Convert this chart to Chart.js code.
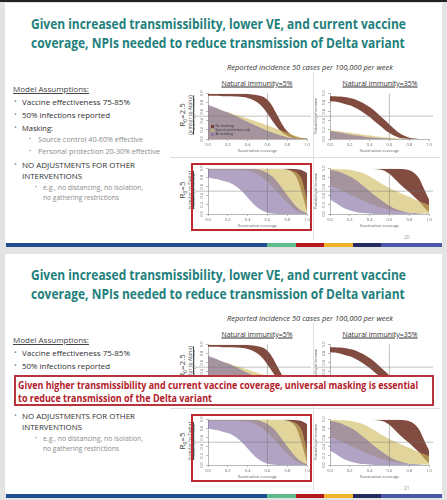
<!DOCTYPE html>
<html>
<head>
<meta charset="utf-8">
<script src="https://cdn.jsdelivr.net/npm/chart.js@4.4.1/dist/chart.umd.min.js"></script>
<style>
  body { margin:0; width:447px; height:500px; background:#e3e3e3; position:relative; overflow:hidden; font-family:'Open Sans', sans-serif; }
  .topstrip { position:absolute; left:0; top:0; width:447px; height:2px; background:#222; }
  .slide { position:absolute; left:0; width:447px; height:250px; }
  .paper { position:absolute; left:5px; top:3px; width:437px; height:240px; background:#fff; }
  .txt { position:absolute; white-space:nowrap; transform-origin:0 50%; color:#333; }
  .vtxt { position:absolute; white-space:nowrap; transform:translate(-50%,-50%) rotate(-90deg); color:#444; }
  .ctxt { position:absolute; white-space:nowrap; transform:translate(-50%,-50%); color:#333; }
  .hline { position:absolute; height:1px; background:#dedede; }
  .vline { position:absolute; width:1px; background:#dedede; }
  .redbox { position:absolute; border:2px solid #c0282f; box-sizing:border-box; z-index:4; }
  .msgbox { position:absolute; border:2px solid #b8343c; box-sizing:border-box; background:#fff; z-index:5; }
  canvas { position:absolute; }
</style>
</head>
<body>
<div class="topstrip"></div>
<script>
// ---------- data ----------
const coverage = [0, 0.05, 0.1, 0.15, 0.2, 0.25, 0.3, 0.35, 0.4, 0.45, 0.5, 0.55, 0.6, 0.65, 0.7, 0.75, 0.8, 0.85, 0.9, 0.95, 1];
const tickValues = [0, 0.2, 0.4, 0.6, 0.8, 1.0];
const refCoverage = 0.6;
const refProb = 0.5;
const seriesNames = ['No masking', 'Source protection only', 'All masking'];

// R0=2.5, natural immunity 5%
const a5NoMaskHi = [0.99,0.99,0.99,0.99,0.99,0.99,0.99,0.99,0.985,0.975,0.96,0.93,0.86,0.72,0.52,0.32,0.17,0.08,0.04,0.02,0.01];
const a5NoMaskLo = [0.95,0.95,0.95,0.94,0.94,0.94,0.93,0.92,0.9,0.86,0.8,0.7,0.56,0.4,0.25,0.14,0.07,0.03,0.01,0,0];
const a5SourceHi = [0.72,0.69,0.66,0.62,0.59,0.55,0.52,0.48,0.45,0.41,0.38,0.34,0.3,0.26,0.22,0.18,0.14,0.1,0.06,0.03,0.01];
const a5SourceLo = [0,0,0,0,0,0,0,0,0,0,0,0,0,0,0,0,0,0,0,0,0];
const a5AllHi    = [0.75,0.71,0.67,0.62,0.58,0.53,0.48,0.43,0.38,0.33,0.28,0.23,0.18,0.14,0.1,0.07,0.04,0.02,0.01,0,0];
const a5AllLo    = [0,0,0,0,0,0,0,0,0,0,0,0,0,0,0,0,0,0,0,0,0];

// R0=2.5, natural immunity 35%
const a35NoMaskHi = [0.94,0.94,0.93,0.92,0.9,0.87,0.82,0.77,0.7,0.62,0.52,0.42,0.32,0.22,0.13,0.07,0.03,0.01,0,0,0];
const a35NoMaskLo = [0.83,0.82,0.8,0.77,0.74,0.69,0.63,0.56,0.48,0.39,0.3,0.21,0.13,0.07,0.03,0.01,0,0,0,0,0];
const a35SourceHi = [0.2,0.18,0.17,0.15,0.14,0.12,0.11,0.09,0.08,0.06,0.05,0.04,0.03,0.02,0.01,0.01,0,0,0,0,0];
const a35SourceLo = [0,0,0,0,0,0,0,0,0,0,0,0,0,0,0,0,0,0,0,0,0];
const a35AllHi    = [0.18,0.16,0.14,0.12,0.1,0.08,0.07,0.05,0.04,0.03,0.02,0.01,0.01,0,0,0,0,0,0,0,0];
const a35AllLo    = [0,0,0,0,0,0,0,0,0,0,0,0,0,0,0,0,0,0,0,0,0];

// R0=5, natural immunity 5%
const d5NoMaskHi = [1,1,1,1,1,1,1,1,1,1,1,1,1,1,1,1,1,0.995,0.98,0.96,0.9];
const d5NoMaskLo = [0.99,0.99,0.99,0.99,0.99,0.99,0.99,0.99,0.99,0.99,0.99,0.99,0.99,0.99,0.99,0.985,0.97,0.92,0.78,0.45,0.05];
const d5SourceHi = [0.995,0.995,0.995,0.995,0.995,0.995,0.995,0.995,0.995,0.995,0.995,0.995,0.995,0.99,0.99,0.98,0.97,0.95,0.9,0.75,0.3];
const d5SourceLo = [0.97,0.97,0.97,0.97,0.97,0.97,0.97,0.96,0.95,0.92,0.87,0.8,0.71,0.6,0.48,0.36,0.25,0.15,0.07,0.02,0];
const d5AllHi    = [0.99,0.99,0.99,0.99,0.99,0.99,0.99,0.99,0.99,0.99,0.98,0.95,0.9,0.82,0.7,0.56,0.41,0.27,0.15,0.06,0.02];
const d5AllLo    = [0.8,0.78,0.76,0.73,0.7,0.65,0.58,0.48,0.36,0.24,0.14,0.07,0.03,0.01,0,0,0,0,0,0,0];

// R0=5, natural immunity 35%
const d35NoMaskHi = [0.99,0.99,0.99,0.99,0.99,0.99,0.99,0.99,0.99,0.99,0.99,0.99,0.99,0.99,0.99,0.98,0.96,0.9,0.78,0.55,0.32];
const d35NoMaskLo = [0.99,0.99,0.99,0.99,0.99,0.99,0.99,0.99,0.99,0.985,0.975,0.95,0.88,0.78,0.67,0.57,0.48,0.38,0.28,0.15,0.04];
const d35SourceHi = [0.99,0.99,0.98,0.98,0.97,0.95,0.92,0.88,0.82,0.76,0.69,0.63,0.57,0.52,0.47,0.42,0.38,0.33,0.28,0.24,0.2];
const d35SourceLo = [0.62,0.58,0.53,0.48,0.43,0.38,0.33,0.28,0.23,0.19,0.15,0.12,0.09,0.07,0.05,0.04,0.03,0.02,0.01,0.01,0];
const d35AllHi    = [0.97,0.95,0.92,0.87,0.82,0.76,0.68,0.59,0.5,0.41,0.33,0.25,0.18,0.12,0.08,0.05,0.03,0.02,0.01,0,0];
const d35AllLo    = [0.32,0.25,0.18,0.12,0.08,0.05,0.03,0.02,0.01,0,0,0,0,0,0,0,0,0,0,0,0];

// colours
const bandColors = {
  noMask: 'rgba(112,50,38,0.88)',
  source: 'rgba(208,188,96,0.62)',
  all: 'rgba(128,106,160,0.62)'
};
const barColors = ['#1f4f8f', '#5dbb8c', '#b7161c', '#f0b429', '#252a63', '#4b58a8'];
const barStops  = [6, 267, 296, 324, 353, 381, 442];

Chart.defaults.font.family = "'Open Sans', sans-serif";
Chart.defaults.color = '#555';

// ---------- helpers ----------
function addText(parent, str, x, yc, size, style, w) {
  const el = document.createElement('div');
  el.className = 'txt';
  el.innerHTML = str;
  el.style.left = x + 'px';
  el.style.top = (yc - size * 0.65) + 'px';
  el.style.fontSize = size + 'px';
  el.style.lineHeight = (size * 1.3) + 'px';
  Object.assign(el.style, style || {});
  parent.appendChild(el);
  if (w) {
    const nat = el.getBoundingClientRect().width;
    if (nat > 0) el.style.transform = `scaleX(${(w / nat).toFixed(3)})`;
  }
  return el;
}

function addBox(parent, cls, x, y, w, h) {
  const el = document.createElement('div');
  el.className = cls;
  el.style.left = x + 'px';
  el.style.top = y + 'px';
  if (w != null) el.style.width = w + 'px';
  if (h != null) el.style.height = h + 'px';
  parent.appendChild(el);
  return el;
}

const pts = arr => coverage.map((c, i) => ({ x: c, y: arr[i] }));

function band(hi, lo, color, order) {
  const common = { borderWidth: 0, borderColor: 'transparent', pointRadius: 0, order, cubicInterpolationMode: 'monotone' };
  return [
    { ...common, data: pts(hi), fill: '+1', backgroundColor: color },
    { ...common, data: pts(lo), fill: false }
  ];
}

// grey reference lines at 60% coverage and p=0.5
const refLines = {
  id: 'refLines',
  afterDatasetsDraw(chart) {
    const { ctx, chartArea: ca, scales: { x, y } } = chart;
    const px = x.getPixelForValue(refCoverage);
    const py = y.getPixelForValue(refProb);
    ctx.save();
    ctx.strokeStyle = 'rgba(110,110,110,0.55)';
    ctx.lineWidth = 0.8;
    ctx.beginPath();
    ctx.moveTo(px, ca.top);
    ctx.lineTo(px, ca.bottom);
    ctx.moveTo(0, py);
    ctx.lineTo(chart.width, py);
    ctx.stroke();
    ctx.restore();
  }
};

function makePanel(parent, left, top, d) {
  const cv = document.createElement('canvas');
  cv.width = 119; cv.height = 63;
  cv.style.left = left + 'px';
  cv.style.top = top + 'px';
  cv.style.width = '119px';
  cv.style.height = '63px';
  parent.appendChild(cv);

  const axisCommon = {
    type: 'linear', min: 0, max: 1,
    afterBuildTicks: s => { s.ticks = tickValues.map(v => ({ value: v })); },
    grid: { drawOnChartArea: false, tickLength: 2, color: '#888', lineWidth: 0.6 },
    border: { color: '#888', width: 0.6 }
  };

  new Chart(cv, {
    type: 'line',
    data: {
      datasets: [
        ...band(d.allHi, d.allLo, bandColors.all, 0),
        ...band(d.sourceHi, d.sourceLo, bandColors.source, 1),
        ...band(d.noMaskHi, d.noMaskLo, bandColors.noMask, 2)
      ]
    },
    options: {
      responsive: false,
      animation: false,
      devicePixelRatio: 1,
      layout: { padding: { top: 3, right: 4, left: 0, bottom: 0 } },
      plugins: { legend: { display: false }, tooltip: { enabled: false } },
      scales: {
        x: {
          ...axisCommon,
          ticks: { font: { size: 4 }, color: '#666', padding: 1, autoSkip: false, maxRotation: 0, callback: v => v.toFixed(1) },
          title: { display: true, text: 'Vaccination coverage', font: { size: 4 }, color: '#555', padding: 0 },
          afterFit: s => { s.height = 14; }
        },
        y: {
          ...axisCommon,
          ticks: { font: { size: 4 }, color: '#666', padding: 1, autoSkip: false, minRotation: 90, maxRotation: 90, crossAlign: 'center', callback: v => v.toFixed(1) },
          title: { display: true, text: 'Probability of increase', font: { size: 3.5 }, color: '#555', padding: 0 },
          afterFit: s => { s.width = 16; }
        }
      }
    },
    plugins: [refLines]
  });
}

const panels = [
  { left: 192, top: 90,  d: { noMaskHi: a5NoMaskHi, noMaskLo: a5NoMaskLo, sourceHi: a5SourceHi, sourceLo: a5SourceLo, allHi: a5AllHi, allLo: a5AllLo } },
  { left: 314, top: 90,  d: { noMaskHi: a35NoMaskHi, noMaskLo: a35NoMaskLo, sourceHi: a35SourceHi, sourceLo: a35SourceLo, allHi: a35AllHi, allLo: a35AllLo } },
  { left: 192, top: 165, d: { noMaskHi: d5NoMaskHi, noMaskLo: d5NoMaskLo, sourceHi: d5SourceHi, sourceLo: d5SourceLo, allHi: d5AllHi, allLo: d5AllLo } },
  { left: 314, top: 165, d: { noMaskHi: d35NoMaskHi, noMaskLo: d35NoMaskLo, sourceHi: d35SourceHi, sourceLo: d35SourceLo, allHi: d35AllHi, allLo: d35AllLo } }
];

// ---------- one slide ----------
function drawSlide(offset, pageNo, withMessage) {
  const s = document.createElement('div');
  s.className = 'slide';
  s.style.top = offset + 'px';
  document.body.appendChild(s);
  addBox(s, 'paper', 5, 3);

  // title
  const teal = { color: '#22807c', fontWeight: '700' };
  addText(s, 'Given increased transmissibility, lower VE, and current vaccine', 31, 25, 13.5, teal, 375);
  addText(s, 'coverage, NPIs needed to reduce transmission of Delta variant', 31, 44, 13.5, teal, 374);
  addText(s, 'Reported incidence 50 cases per 100,000 per week', 227, 68, 6.5, { fontStyle: 'italic', color: '#333' }, 166);

  // left column
  const main = { color: '#2e2e2e' };
  const sub = { color: '#8a8a8a' };
  addText(s, 'Model Assumptions:', 13, 89, 8, { color: '#444', textDecoration: 'underline' }, 76);
  [['Vaccine effectiveness 75-85%', 102, 108], ['50% infections reported', 115, 88], ['Masking:', 128, 31], ['NO ADJUSTMENTS FOR OTHER', 165, 113]]
    .forEach(([t, y, w]) => { addText(s, '•', 14, y, 7, sub); addText(s, t, 22, y, 8, main, w); });
  addText(s, 'INTERVENTIONS', 22, 176, 8, main, 60);
  addText(s, '•', 29, 140, 5.5, sub); addText(s, 'Source control 40-60% effective', 38, 140, 7, sub, 105);
  addText(s, '•', 29, 152, 5.5, sub); addText(s, 'Personal protection 20-30% effective', 38, 152, 7, sub, 122);
  addText(s, '•', 35, 188, 5.5, sub); addText(s, 'e.g., no distancing, no isolation,', 43, 188, 7, sub, 100);
  addText(s, 'no gathering restrictions', 43, 198, 7, sub, 76);

  // separators
  addBox(s, 'hline', 170, 157, 270);
  addBox(s, 'vline', 313, 72, null, 168);

  // panel headers and row labels
  [['Natural immunity=5%', 257], ['Natural immunity=35%', 380]].forEach(([t, x]) => {
    const el = addBox(s, 'ctxt', x, 83);
    el.style.fontSize = '7px'; el.style.textDecoration = 'underline'; el.textContent = t;
  });
  [['R<sub style="font-size:5px">0</sub>=2.5', '(similar to Alpha)', 115], ['R<sub style="font-size:5px">0</sub>=5', '(similar to Delta)', 190]].forEach(([r, sim, y]) => {
    const a = addBox(s, 'vtxt', 182, y); a.style.fontSize = '8px'; a.innerHTML = r;
    const b = addBox(s, 'vtxt', 189.5, y); b.style.fontSize = '5px'; b.style.textDecoration = 'underline'; b.textContent = sim;
  });

  panels.forEach(p => makePanel(s, p.left, p.top, p.d));

  // legend inside first panel
  [bandColors.noMask, bandColors.source, bandColors.all].forEach((c, i) => {
    const y = 126 + i * 4.3;
    const sq = addBox(s, 'hline', 211, y - 1.5, 3, 3); sq.style.background = c; sq.style.zIndex = 3;
    addText(s, seriesNames[i], 215.5, y, 3.3, { color: '#333', zIndex: 3 });
  });

  addBox(s, 'redbox', 191, 163, 121, 68);
  addText(s, String(pageNo), 404, 237, 5, { color: '#9a9a9a' });

  // bottom colour bar
  barColors.forEach((c, i) => {
    const b = addBox(s, 'hline', barStops[i], 243, barStops[i + 1] - barStops[i], 4);
    b.style.background = c;
  });

  if (withMessage) {
    addBox(s, 'msgbox', 14, 124, 420, 31);
    const red = { color: '#b3202a', fontWeight: '700', zIndex: 6 };
    addText(s, 'Given higher transmissibility and current vaccine coverage, universal masking is essential', 18, 134, 10, red, 400);
    addText(s, 'to reduce transmission of the Delta variant', 18, 147, 10, red, 194);
  }
}

drawSlide(0, 20, false);
drawSlide(251, 21, true);
</script>
</body>
</html>
